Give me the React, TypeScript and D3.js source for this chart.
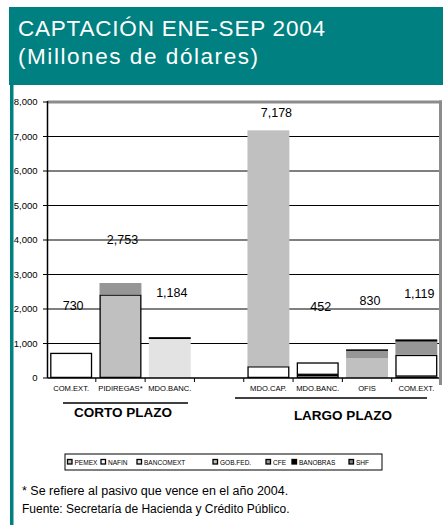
import React from "react";
import * as d3 from "d3";

// ---------- data ----------
const categories = ["COM.EXT.", "PIDIREGAS*", "MDO.BANC.", "", "MDO.CAP.", "MDO.BANC.", "OFIS", "COM.EXT."];
const seriesNames = ["PEMEX", "NAFIN", "BANCOMEXT", "GOB.FED.", "CFE", "BANOBRAS", "SHF"];
const pemex = [0, 2420, 0, 0, 0, 90, 0, 40];
const nafin = [730, 0, 0, 0, 340, 362, 0, 630];
const bancomext = [0, 0, 1130, 0, 0, 0, 0, 0];
const gobfed = [0, 0, 0, 0, 6838, 0, 570, 0];
const cfe = [0, 333, 0, 0, 0, 0, 215, 385];
const banobras = [0, 0, 54, 0, 0, 0, 45, 64];
const shf = [0, 0, 0, 0, 0, 0, 0, 0];
const totalLabels = ["730", "2,753", "1,184", "", "7,178", "452", "830", "1,119"];
const yTicks = [0, 1000, 2000, 3000, 4000, 5000, 6000, 7000, 8000];
const groups = [
  { name: "CORTO PLAZO", from: 0, to: 2 },
  { name: "LARGO PLAZO", from: 4, to: 7 },
];

// ---------- styles ----------
const seriesStyle: Record<string, { fill: string; stroke: string | null }> = {
  PEMEX: { fill: "#c0c0c0", stroke: "#000" },
  NAFIN: { fill: "#ffffff", stroke: "#000" },
  BANCOMEXT: { fill: "#e3e3e3", stroke: null },
  "GOB.FED.": { fill: "#c0c0c0", stroke: null },
  CFE: { fill: "#969696", stroke: null },
  BANOBRAS: { fill: "#000000", stroke: null },
  SHF: { fill: "#808080", stroke: null },
};
// label lift above bar top (px) and x nudge
const labelLift = [43, 39, 40, 0, 13, 51, 44, 41];
const labelNudge = [2, 2, 2, 0, 8, 3, 3, 3];
// group label layout
const groupLayout = [
  { lineY: 403, x1: 63, x2: 188, textY: 416.5, cx: 123 },
  { lineY: 398, x1: 235, x2: 427, textY: 419.5, cx: 343 },
];
// legend layout
const legendX = [67.5, 101, 137, 213, 266, 292, 349];

const W = 443;
const H = 525;
const FONT = "'Liberation Sans', Arial, Helvetica, sans-serif";
const TEAL = "#008080";

export default function App() {
  const table = categories.map((c, i) => ({
    idx: i,
    PEMEX: pemex[i],
    NAFIN: nafin[i],
    BANCOMEXT: bancomext[i],
    "GOB.FED.": gobfed[i],
    CFE: cfe[i],
    BANOBRAS: banobras[i],
    SHF: shf[i],
  }));
  const stacked = d3.stack<any>().keys(seriesNames)(table);

  const x = d3
    .scaleBand<number>()
    .domain(categories.map((_, i) => i))
    .range([46.5, 441])
    .paddingInner(0.15)
    .paddingOuter(0.075);
  const y = d3.scaleLinear().domain([0, 8000]).range([378, 102]);

  const left = 47.5;
  const right = 440.5;
  const step = x.step();
  const boundaries = d3.range(1, categories.length).map((k) => 46.5 + step * k);

  const totals = categories.map((_, i) => seriesNames.reduce((s, k) => s + (table[i] as any)[k], 0));

  return (
    <svg
      width={W}
      height={H}
      style={{ position: "absolute", left: 0, top: 0, background: "#fff" }}
      fontFamily={FONT}
    >
      <rect x={0} y={0} width={W} height={H} fill="#fff" />
      {/* title band */}
      <rect x={9} y={7} width={W - 9} height={78} fill={TEAL} />
      <rect x={10} y={85} width={3.5} height={H - 85} fill={TEAL} />
      <text x={18} y={36} fill="#fff" fontSize={22.5} textLength={307} lengthAdjust="spacing">
        CAPTACIÓN ENE-SEP 2004
      </text>
      <text x={18} y={64} fill="#fff" fontSize={22.5} textLength={240} lengthAdjust="spacing">
        (Millones de dólares)
      </text>

      {/* plot border */}
      <line x1={left} x2={right + 1.5} y1={y(8000)} y2={y(8000)} stroke="#8c8c8c" strokeWidth={3} />
      <line x1={right} x2={right} y1={y(8000) - 1.5} y2={385} stroke="#8c8c8c" strokeWidth={3} />

      {/* gridlines */}
      {yTicks
        .filter((t) => t > 0 && t < 8000)
        .map((t) => (
          <line key={t} x1={left} x2={right - 1.5} y1={y(t)} y2={y(t)} stroke="#000" strokeWidth={1} />
        ))}

      {/* bars */}
      {stacked.map((layer) => {
        const st = seriesStyle[layer.key];
        return (
          <g key={layer.key}>
            {layer.map((d, i) => {
              const v = d[1] - d[0];
              if (v <= 0) return null;
              const x0 = x(i)!;
              const bw = x.bandwidth();
              const y0 = y(d[0]);
              const y1 = y(d[1]);
              if (st.stroke) {
                return (
                  <rect
                    key={i}
                    x={x0 + 0.6}
                    y={y1 + 0.6}
                    width={bw - 1.2}
                    height={Math.max(0, y0 - y1 - 1.2)}
                    fill={st.fill}
                    stroke={st.stroke}
                    strokeWidth={1.3}
                  />
                );
              }
              return <rect key={i} x={x0} y={y1} width={bw} height={y0 - y1} fill={st.fill} />;
            })}
          </g>
        );
      })}

      {/* axes */}
      <line x1={left} x2={left} y1={y(8000) - 1} y2={y(0)} stroke="#000" strokeWidth={1.5} />
      <line x1={left} x2={right - 1.5} y1={y(0)} y2={y(0)} stroke="#000" strokeWidth={1.5} />
      {yTicks.map((t) => (
        <g key={t}>
          <line x1={left - 4.5} x2={left} y1={y(t)} y2={y(t)} stroke="#000" strokeWidth={1} />
          <text x={37.5} y={y(t)} dy="0.35em" textAnchor="end" fontSize={9.5} fill="#000">
            {d3.format(",")(t)}
          </text>
        </g>
      ))}
      {boundaries.map((b, k) => (
        <line key={k} x1={b} x2={b} y1={y(0)} y2={y(0) + 4} stroke="#000" strokeWidth={1} />
      ))}
      {categories.map((c, i) => (
        <text
          key={i}
          x={x(i)! + x.bandwidth() / 2}
          y={390.5}
          textAnchor="middle"
          fontSize={7.6}
          fill="#000"
        >
          {c}
        </text>
      ))}

      {/* value labels */}
      {totalLabels.map((lab, i) =>
        lab ? (
          <text
            key={i}
            x={x(i)! + x.bandwidth() / 2 + labelNudge[i]}
            y={y(totals[i]) - labelLift[i]}
            textAnchor="middle"
            fontSize={12.5}
            fill="#000"
          >
            {lab}
          </text>
        ) : null
      )}

      {/* groups */}
      {groups.map((g, k) => {
        const gl = groupLayout[k];
        return (
          <g key={g.name}>
            <line x1={gl.x1} x2={gl.x2} y1={gl.lineY} y2={gl.lineY} stroke="#000" strokeWidth={1.5} />
            <text x={gl.cx} y={gl.textY} textAnchor="middle" fontSize={13.5} fontWeight="bold" fill="#000">
              {g.name}
            </text>
          </g>
        );
      })}

      {/* legend */}
      <rect x={65} y={454} width={317} height={16} fill="#fff" stroke="#000" strokeWidth={1} />
      {seriesNames.map((s, i) => (
        <g key={s}>
          <rect x={legendX[i]} y={459.5} width={4.5} height={4.5} fill={seriesStyle[s].fill} stroke="#000" strokeWidth={1.3} />
          <g transform={`translate(${legendX[i] + 7},465) scale(0.86,1)`}>
            <text x={0} y={0} fontSize={7.6} fill="#000">
              {s}
            </text>
          </g>
        </g>
      ))}

      {/* notes */}
      <text x={22} y={495} fontSize={12.5} fill="#000">
        * Se refiere al pasivo que vence en el año 2004.
      </text>
      <text x={22} y={513} fontSize={12} fill="#000">
        Fuente: Secretaría de Hacienda y Crédito Público.
      </text>
    </svg>
  );
}
